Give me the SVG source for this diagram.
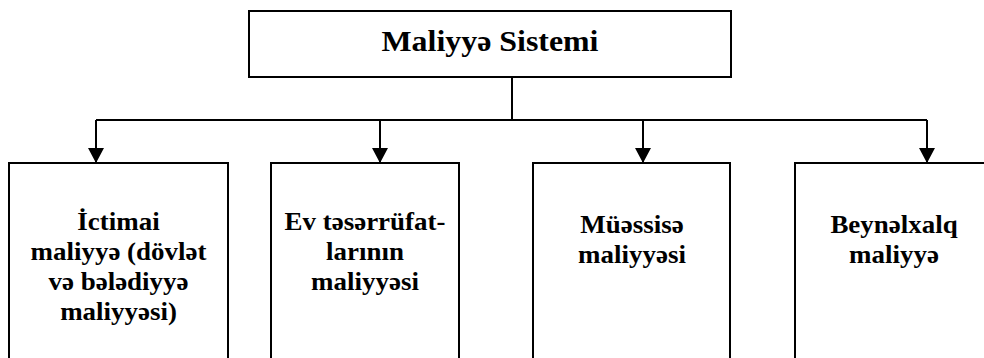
<svg xmlns="http://www.w3.org/2000/svg" width="984" height="358" viewBox="0 0 984 358">
<style>
.box{fill:#fff;stroke:#000;stroke-width:2}
.ln{fill:none;stroke:#000;stroke-width:2}
.t{font-family:'Liberation Serif','Times New Roman','DejaVu Serif',serif;font-weight:bold;fill:#000;text-anchor:middle}
.lbl{font-size:24.5px}
.title{font-size:29px}
</style>
<defs>
<marker id="arr" viewBox="0 0 15 16" refX="15" refY="8" markerWidth="15" markerHeight="16" markerUnits="userSpaceOnUse" orient="auto">
<path d="M0,0 L15,8 L0,16 Z" fill="#000"/>
</marker>
</defs>
<g id="connectors">
<path class="ln" d="M512,77 V120"/>
<path class="ln" d="M96,120 H927"/>
<path class="ln" d="M96,120 V163" marker-end="url(#arr)"/>
<path class="ln" d="M380,120 V163" marker-end="url(#arr)"/>
<path class="ln" d="M643,120 V163" marker-end="url(#arr)"/>
<path class="ln" d="M927,120 V163" marker-end="url(#arr)"/>
</g>
<g id="root">
<rect class="box" x="249" y="11" width="482" height="66"/>
<text class="t title" transform="translate(490,0) scale(1.1,1)" x="0" y="51">Maliyyə Sistemi</text>
</g>
<g id="ictimai">
<rect class="box" x="9" y="163" width="219" height="210"/>
<g transform="translate(118.5,0) scale(1.1,1)">
<text class="t lbl" x="0" y="230">İctimai</text>
<text class="t lbl" x="0" y="260">maliyyə (dövlət</text>
<text class="t lbl" x="0" y="290">və bələdiyyə</text>
<text class="t lbl" x="0" y="320">maliyyəsi)</text>
</g>
</g>
<g id="ev">
<rect class="box" x="271" y="163" width="188" height="210"/>
<g transform="translate(365,0) scale(1.1,1)">
<text class="t lbl" x="0" y="230">Ev təsərrüfat-</text>
<text class="t lbl" x="0" y="260">larının</text>
<text class="t lbl" x="0" y="290">maliyyəsi</text>
</g>
</g>
<g id="muessise">
<rect class="box" x="533" y="163" width="197" height="210"/>
<g transform="translate(632,0) scale(1.1,1)">
<text class="t lbl" x="0" y="233">Müəssisə</text>
<text class="t lbl" x="0" y="263">maliyyəsi</text>
</g>
</g>
<g id="beynelxalq">
<rect class="box" x="795" y="163" width="198" height="210"/>
<g transform="translate(894,0) scale(1.1,1)">
<text class="t lbl" x="0" y="233">Beynəlxalq</text>
<text class="t lbl" x="0" y="263">maliyyə</text>
</g>
</g>
</svg>
